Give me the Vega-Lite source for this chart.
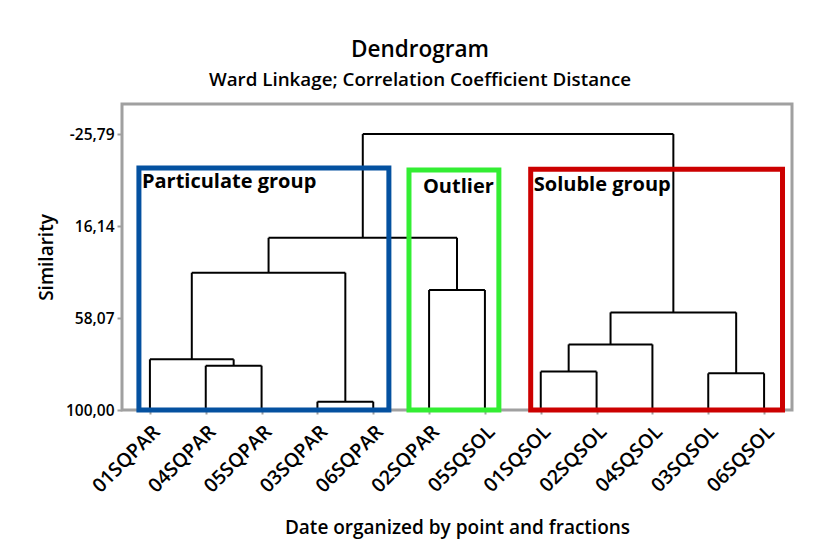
{
  "$schema": "https://vega.github.io/schema/vega-lite/v6.json",
  "width": 670,
  "height": 306,
  "autosize": {"type": "none"},
  "padding": {"left": 122, "top": 104, "right": 27, "bottom": 146},
  "background": "white",
  "title": {
    "text": "Dendrogram",
    "subtitle": "Ward Linkage; Correlation Coefficient Distance",
    "anchor": "middle",
    "dx": -37,
    "offset": 14,
    "font": "Open Sans",
    "fontSize": 22.5,
    "fontWeight": 600,
    "color": "black",
    "subtitleFont": "Open Sans",
    "subtitleFontSize": 18.8,
    "subtitleFontWeight": 600,
    "subtitleColor": "black",
    "subtitlePadding": 10
  },
  "config": {
    "view": {"stroke": "#a0a0a0", "strokeWidth": 3},
    "font": "Open Sans"
  },
  "datasets": {
    "leaves": [
      {"leaf": "01SQPAR", "base": 100, "top": 76.9},
      {"leaf": "04SQPAR", "base": 100, "top": 79.8},
      {"leaf": "05SQPAR", "base": 100, "top": 79.8},
      {"leaf": "03SQPAR", "base": 100, "top": 96.2},
      {"leaf": "06SQPAR", "base": 100, "top": 96.2},
      {"leaf": "02SQPAR", "base": 100, "top": 45.3},
      {"leaf": "05SQSOL", "base": 100, "top": 45.3},
      {"leaf": "01SQSOL", "base": 100, "top": 82.5},
      {"leaf": "02SQSOL", "base": 100, "top": 82.5},
      {"leaf": "04SQSOL", "base": 100, "top": 70.1},
      {"leaf": "03SQSOL", "base": 100, "top": 83.3},
      {"leaf": "06SQSOL", "base": 100, "top": 83.3}
    ],
    "segments": [
      {"x": 2, "x2": 3, "y": 79.8, "y2": 79.8},
      {"x": 1, "x2": 2.5, "y": 76.9, "y2": 76.9},
      {"x": 4, "x2": 5, "y": 96.2, "y2": 96.2},
      {"x": 1.75, "x2": 4.5, "y": 37.4, "y2": 37.4},
      {"x": 6, "x2": 7, "y": 45.3, "y2": 45.3},
      {"x": 3.125, "x2": 6.5, "y": 21.5, "y2": 21.5},
      {"x": 8, "x2": 9, "y": 82.5, "y2": 82.5},
      {"x": 8.5, "x2": 10, "y": 70.1, "y2": 70.1},
      {"x": 11, "x2": 12, "y": 83.3, "y2": 83.3},
      {"x": 9.25, "x2": 11.5, "y": 55.5, "y2": 55.5},
      {"x": 4.8125, "x2": 10.375, "y": -25.79, "y2": -25.79},
      {"x": 2.5, "x2": 2.5, "y": 79.8, "y2": 76.9},
      {"x": 1.75, "x2": 1.75, "y": 76.9, "y2": 37.4},
      {"x": 4.5, "x2": 4.5, "y": 96.2, "y2": 37.4},
      {"x": 3.125, "x2": 3.125, "y": 37.4, "y2": 21.5},
      {"x": 6.5, "x2": 6.5, "y": 45.3, "y2": 21.5},
      {"x": 4.8125, "x2": 4.8125, "y": 21.5, "y2": -25.79},
      {"x": 8.5, "x2": 8.5, "y": 82.5, "y2": 70.1},
      {"x": 9.25, "x2": 9.25, "y": 70.1, "y2": 55.5},
      {"x": 11.5, "x2": 11.5, "y": 83.3, "y2": 55.5},
      {"x": 10.375, "x2": 10.375, "y": 55.5, "y2": -25.79}
    ],
    "boxes": [
      {"group": "Particulate group", "x": 0.803, "x2": 5.28, "y": -10.3, "y2": 100, "color": "#0451a0"},
      {"group": "Outlier", "x": 5.64, "x2": 7.25, "y": -9.4, "y2": 100, "color": "#33ee33"},
      {"group": "Soluble group", "x": 7.82, "x2": 12.33, "y": -9.8, "y2": 100, "color": "#cc0000"}
    ],
    "labels": [
      {"label": "Particulate group", "x": 0.857, "y": -1.2},
      {"label": "Outlier", "x": 5.89, "y": 1.1},
      {"label": "Soluble group", "x": 7.875, "y": 0.2}
    ]
  },
  "layer": [
    {
      "data": {"name": "leaves"},
      "mark": {"type": "rule", "color": "black", "strokeWidth": 2},
      "encoding": {
        "x": {
          "field": "leaf",
          "type": "nominal",
          "sort": null,
          "scale": {"type": "point", "padding": 0.5},
          "axis": {
            "title": "Date organized by point and fractions",
            "labelAngle": -45,
            "labelFontSize": 19.5,
            "labelFontWeight": 600,
            "labelColor": "black",
            "labelFont": "Open Sans",
            "labelPadding": 8,
            "domain": false,
            "ticks": true,
            "tickColor": "#a0a0a0",
            "tickSize": 4,
            "tickWidth": 2,
            "titleFont": "Open Sans",
            "titleFontSize": 19,
            "titleFontWeight": 600,
            "titleColor": "black",
            "titlePadding": 23
          }
        },
        "y": {
          "field": "base",
          "type": "quantitative",
          "scale": {"domain": [-39.5, 100], "reverse": true, "nice": false, "zero": false},
          "axis": {
            "title": "Similarity",
            "values": [-25.79, 16.14, 58.07, 100],
            "labelExpr": "replace(replace(format(datum.value, '.2f'), '.', ','), '\u2212', '-')",
            "grid": false,
            "domain": false,
            "ticks": true,
            "tickColor": "#a0a0a0",
            "tickSize": 5,
            "tickWidth": 2,
            "labelFontSize": 15.5,
            "labelFontWeight": 600,
            "labelColor": "black",
            "labelFont": "Open Sans",
            "labelPadding": 3,
            "titleFont": "Open Sans",
            "titleFontSize": 19,
            "titleFontWeight": 600,
            "titleColor": "black",
            "titlePadding": 9
          }
        },
        "y2": {"field": "top"}
      }
    },
    {
      "layer": [
        {
          "data": {"name": "segments"},
          "mark": {"type": "rule", "color": "black", "strokeWidth": 2},
          "encoding": {
            "x": {"field": "x", "type": "quantitative", "scale": {"domain": [0.5, 12.5], "nice": false, "zero": false}, "axis": null},
            "x2": {"field": "x2"},
            "y": {"field": "y", "type": "quantitative", "title": "Similarity", "scale": {"domain": [-39.5, 100], "reverse": true, "nice": false, "zero": false}},
            "y2": {"field": "y2"}
          }
        },
        {
          "data": {"name": "boxes"},
          "mark": {"type": "rect", "filled": false, "strokeWidth": 5},
          "encoding": {
            "x": {"field": "x", "type": "quantitative", "scale": {"domain": [0.5, 12.5], "nice": false, "zero": false}, "axis": null},
            "x2": {"field": "x2"},
            "y": {"field": "y", "type": "quantitative", "title": "Similarity", "scale": {"domain": [-39.5, 100], "reverse": true, "nice": false, "zero": false}},
            "y2": {"field": "y2"},
            "stroke": {"field": "color", "type": "nominal", "scale": null}
          }
        },
        {
          "data": {"name": "labels"},
          "mark": {"type": "text", "align": "left", "baseline": "alphabetic", "font": "Open Sans", "fontSize": 20, "fontWeight": "bold", "color": "black"},
          "encoding": {
            "x": {"field": "x", "type": "quantitative", "scale": {"domain": [0.5, 12.5], "nice": false, "zero": false}, "axis": null},
            "y": {"field": "y", "type": "quantitative", "title": "Similarity", "scale": {"domain": [-39.5, 100], "reverse": true, "nice": false, "zero": false}},
            "text": {"field": "label"}
          }
        }
      ]
    }
  ],
  "resolve": {"scale": {"x": "independent"}, "axis": {"x": "independent"}}
}
